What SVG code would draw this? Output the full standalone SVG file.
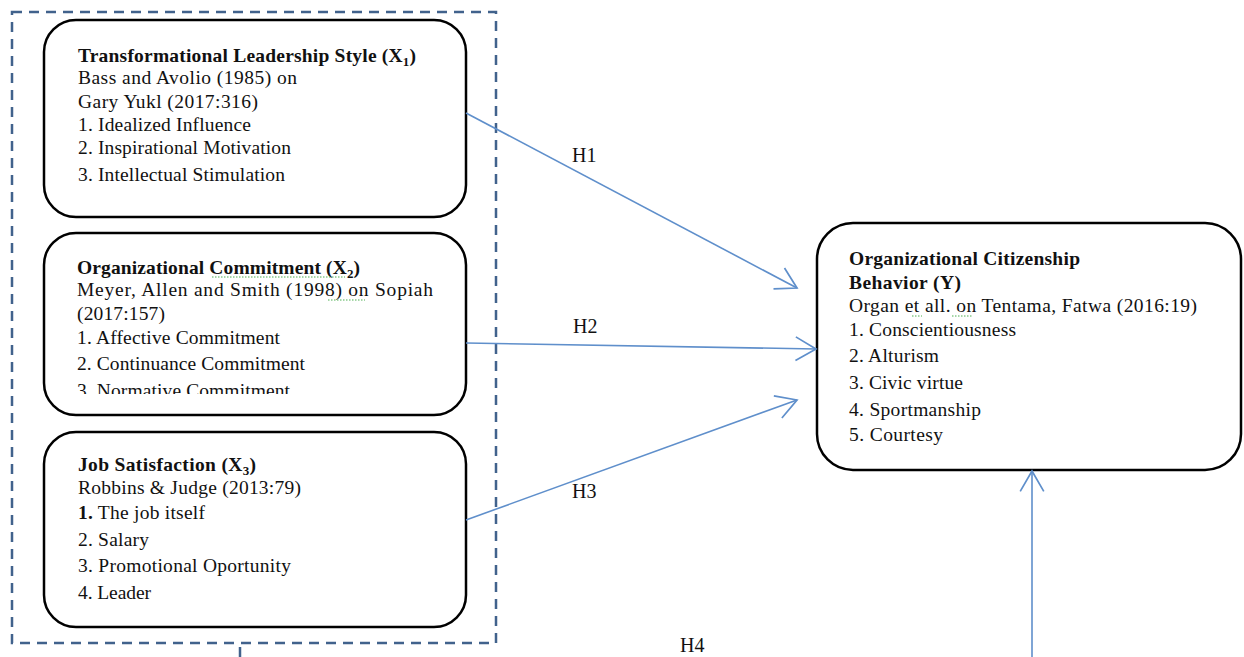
<svg xmlns="http://www.w3.org/2000/svg" width="1244" height="657" viewBox="0 0 1244 657">
<style>
.box{fill:#fff;stroke:#000;stroke-width:2.5}
.t{font-family:"Liberation Serif","Times New Roman",serif;font-size:19.5px;fill:#111}
.b{font-weight:bold}
.lbl{font-family:"Liberation Serif","Times New Roman",serif;font-size:20px;fill:#111}
.con{stroke:#5f8fcb;stroke-width:1.6;fill:none}
.sq{stroke:#4caf50;stroke-width:1;fill:none;stroke-dasharray:1.5 1.5}
</style>
<defs>
<marker id="ah" markerUnits="userSpaceOnUse" markerWidth="30" markerHeight="30" refX="0" refY="0" viewBox="-22 -14 26 28" orient="auto" overflow="visible">
<path d="M-19,-11 L0,0 L-19,11" fill="none" stroke="#5f8fcb" stroke-width="1.6"/>
</marker>
<clipPath id="clip2"><rect x="44" y="233" width="422" height="161"/></clipPath>
</defs>
<rect x="12" y="12" width="484" height="631" fill="none" stroke="#41628c" stroke-width="2.5" stroke-dasharray="10 7"/>
<line x1="240" y1="647" x2="240" y2="657" stroke="#41628c" stroke-width="2.5"/>
<g id="x1">
<rect class="box" x="44" y="20" width="422" height="197" rx="32"/>
<text class="t b" x="78" y="62" textLength="338">Transformational Leadership Style (X<tspan font-size="13" dy="4">1</tspan><tspan dy="-4">)</tspan></text>
<text class="t" x="78" y="84" textLength="219">Bass and Avolio (1985) on</text>
<text class="t" x="78" y="108" textLength="180">Gary Yukl (2017:316)</text>
<text class="t" x="78" y="131" textLength="173">1. Idealized  Influence</text>
<text class="t" x="78" y="154" textLength="213">2. Inspirational  Motivation</text>
<text class="t" x="78" y="181" textLength="207">3. Intellectual  Stimulation</text>
</g>
<g id="x2">
<rect class="box" x="44" y="233" width="422" height="182" rx="32"/>
<text class="t b" x="77" y="274" textLength="283">Organizational Commitment  (X<tspan font-size="13" dy="4">2</tspan><tspan dy="-4">)</tspan></text>
<path class="sq" d="M212,277 L345,277"/>
<text class="t" x="77" y="296" textLength="356">Meyer, Allen and Smith (1998)  on  Sopiah</text>
<path class="sq" d="M328,300 L365,300"/>
<text class="t" x="77" y="320" textLength="88">(2017:157)</text>
<text class="t" x="77" y="344" textLength="203">1. Affective Commitment</text>
<text class="t" x="77" y="370" textLength="228">2. Continuance Commitment</text>
<text class="t" x="77" y="397" textLength="213" clip-path="url(#clip2)">3. Normative Commitment</text>
</g>
<g id="x3">
<rect class="box" x="44" y="432" width="422" height="195" rx="32"/>
<text class="t b" x="78" y="471" textLength="178">Job Satisfaction (X<tspan font-size="13" dy="4">3</tspan><tspan dy="-4">)</tspan></text>
<text class="t" x="78" y="494" textLength="223">Robbins &amp; Judge (2013:79)</text>
<text class="t" x="78" y="519" textLength="127"><tspan font-weight="bold">1.</tspan> The job itself</text>
<text class="t" x="78" y="546" textLength="71">2. Salary</text>
<text class="t" x="78" y="572" textLength="213">3. Promotional  Oportunity</text>
<text class="t" x="78" y="599" textLength="73">4. Leader</text>
</g>
<g id="y">
<rect class="box" x="817" y="223" width="424" height="247" rx="36"/>
<text class="t b" x="849" y="265" textLength="231">Organizational Citizenship</text>
<text class="t b" x="849" y="289" textLength="112">Behavior (Y)</text>
<text class="t" x="849" y="312" textLength="348">Organ et all. on Tentama, Fatwa  (2016:19)</text>
<path class="sq" d="M912,316 L922,316 M952,316 L972,316"/>
<text class="t" x="849" y="336" textLength="167">1. Conscientiousness</text>
<text class="t" x="849" y="362" textLength="90">2. Alturism</text>
<text class="t" x="849" y="389" textLength="114">3. Civic virtue</text>
<text class="t" x="849" y="416" textLength="132">4. Sportmanship</text>
<text class="t" x="849" y="441" textLength="94">5. Courtesy</text>
</g>
<g id="connectors">
<line class="con" x1="466" y1="113" x2="797" y2="288" marker-end="url(#ah)"/>
<line class="con" x1="466" y1="343" x2="816" y2="349" marker-end="url(#ah)"/>
<line class="con" x1="466" y1="520" x2="797" y2="400" marker-end="url(#ah)"/>
<line class="con" x1="1032" y1="657" x2="1032" y2="471" marker-end="url(#ah)"/>
<text class="lbl" x="572" y="162">H1</text>
<text class="lbl" x="573" y="333">H2</text>
<text class="lbl" x="572" y="498">H3</text>
<text class="lbl" x="680" y="652">H4</text>
</g>
</svg>
